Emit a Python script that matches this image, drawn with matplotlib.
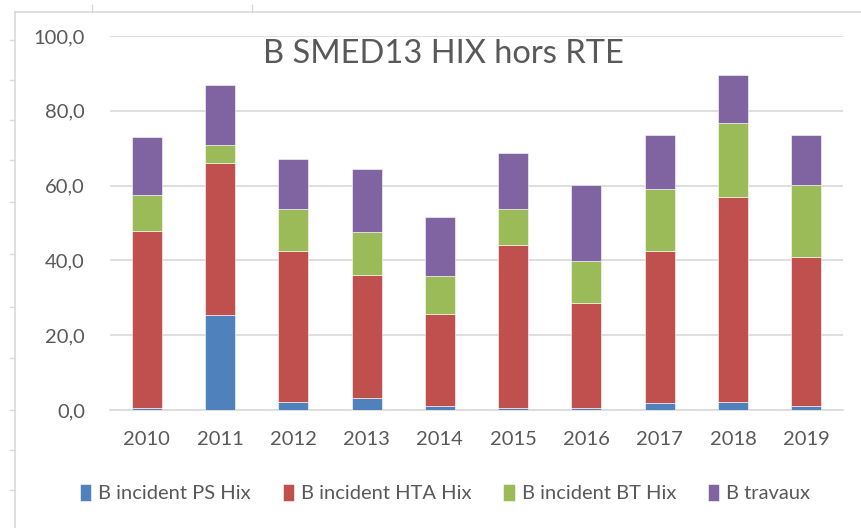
import numpy as np
import matplotlib.pyplot as plt
from matplotlib.lines import Line2D

plt.rcParams['font.family'] = ['Lato', 'DejaVu Sans']

years = ['2010', '2011', '2012', '2013', '2014', '2015', '2016', '2017', '2018', '2019']
ps_hix = [0.5, 25.3, 2.2, 3.3, 1.2, 0.6, 0.6, 1.8, 2.2, 1.2]
hta_hix = [47.3, 40.7, 40.2, 32.7, 24.6, 43.4, 27.9, 40.6, 54.7, 39.6]
bt_hix = [9.6, 4.8, 11.3, 11.7, 10.1, 9.7, 11.3, 16.6, 19.8, 19.3]
travaux = [15.6, 16.0, 13.3, 16.7, 15.6, 14.9, 20.3, 14.4, 13.0, 13.3]

series = [
    ('B incident PS Hix', ps_hix, '#4f81bd'),
    ('B incident HTA Hix', hta_hix, '#c0504d'),
    ('B incident BT Hix', bt_hix, '#9bbb59'),
    ('B travaux', travaux, '#8064a2'),
]

W, H = 861, 528
fig = plt.figure(figsize=(W / 100, H / 100), dpi=100)
ax = fig.add_axes([110 / W, 1 - 410 / H, (843 - 110) / W, (410 - 36) / H])

x = np.arange(len(years))
bottom = np.zeros(len(years))
for label, vals, color in series:
    ax.bar(x, vals, 0.41, bottom=bottom, color=color, label=label,
           edgecolor='white', linewidth=0.4, zorder=3)
    bottom += np.array(vals)

ax.set_ylim(0, 100)
ax.set_xlim(-0.5, len(years) - 0.5)
ax.set_yticks(np.arange(0, 101, 20))
ax.set_yticklabels([f'{v:.1f}'.replace('.', ',') for v in np.arange(0, 101, 20)])
ax.set_xticks(x)
ax.set_xticklabels(years)
ax.tick_params(length=0, labelsize=14.5, colors='#595959')
ax.tick_params(axis='y', pad=18)
ax.tick_params(axis='x', pad=15)
ax.grid(axis='y', color='#d9d9d9', linewidth=1.2, zorder=0)
for side in ['top', 'right', 'left']:
    ax.spines[side].set_visible(False)
ax.spines['bottom'].set_color('#d9d9d9')
ax.spines['bottom'].set_linewidth(1.2)

fig.text(443 / W, 1 - 54 / H, 'B SMED13 HIX hors RTE', ha='center', va='center',
         fontsize=23.5, color='#595959')

fig.legend(loc='center', bbox_to_anchor=(445 / W, 1 - 493 / H), ncol=4,
           frameon=False, fontsize=14.5, labelcolor='#595959',
           handlelength=0.55, handleheight=0.9, handletextpad=0.35, columnspacing=1.6)

# sheet frame lines around the chart
frame = '#d9d9d9'
fig.add_artist(Line2D([15 / W, 1], [1 - 12 / H, 1 - 12 / H], color=frame, lw=1.2))
fig.add_artist(Line2D([15 / W, 15 / W], [0, 1 - 12 / H], color=frame, lw=1.2))
for yy in [40, 80, 120, 160, 202, 254, 307, 358, 410, 450, 490]:
    fig.add_artist(Line2D([10 / W, 15 / W], [1 - yy / H, 1 - yy / H], color=frame, lw=1))
for xx in [92, 252]:
    fig.add_artist(Line2D([xx / W, xx / W], [1 - 5 / H, 1 - 12 / H], color=frame, lw=1))

fig.savefig('out.png', dpi=100, facecolor='white')
